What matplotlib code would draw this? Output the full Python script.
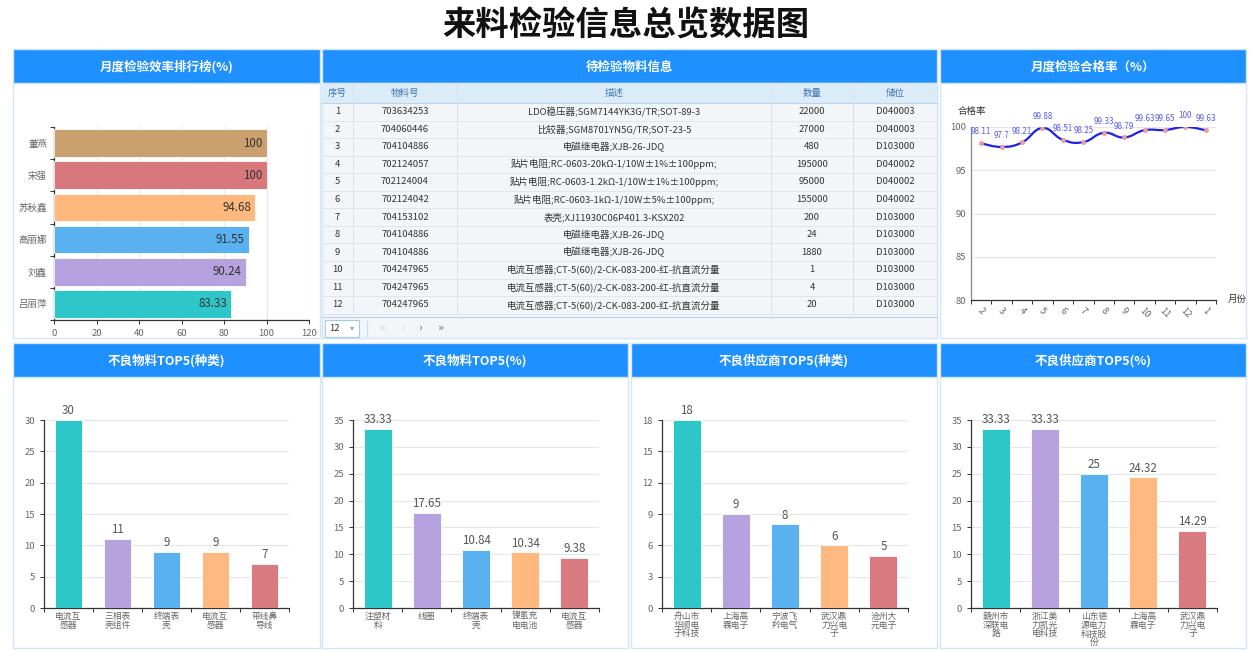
import matplotlib
matplotlib.use('Agg')
import matplotlib.pyplot as plt
from matplotlib.patches import Rectangle, PathPatch
from matplotlib.path import Path
import numpy as np

plt.rcParams['font.family'] = ['Noto Sans CJK SC', 'DejaVu Sans']

# ---------------- data ----------------
title = '来料检验信息总览数据图'
panel_titles_top = ['月度检验效率排行榜(%)', '待检验物料信息', '月度检验合格率（%）']
panel_titles_bottom = ['不良物料TOP5(种类)', '不良物料TOP5(%)', '不良供应商TOP5(种类)', '不良供应商TOP5(%)']

eff_names = ['董燕', '宋强', '苏秋鑫', '高丽娜', '刘鑫', '吕丽萍']
eff_values = [100, 100, 94.68, 91.55, 90.24, 83.33]
eff_colors = ['#C9A06E', '#D8787D', '#FFB97F', '#5AB1EF', '#B6A2DE', '#2EC7C9']
eff_ticks = [0, 20, 40, 60, 80, 100, 120]

table_cols = ['序号', '物料号', '描述', '数量', '储位']
mat_no = ['703634253', '704060446', '704104886', '702124057', '702124004', '702124042',
          '704153102', '704104886', '704104886', '704247965', '704247965', '704247965']
mat_desc = ['LDO稳压器;SGM7144YK3G/TR;SOT-89-3',
            '比较器;SGM8701YN5G/TR;SOT-23-5',
            '电磁继电器;XJB-26-JDQ',
            '贴片电阻;RC-0603-20kΩ-1/10W±1%±100ppm;',
            '贴片电阻;RC-0603-1.2kΩ-1/10W±1%±100ppm;',
            '贴片电阻;RC-0603-1kΩ-1/10W±5%±100ppm;',
            '表壳;XJ11930C06P401.3-KSX202',
            '电磁继电器;XJB-26-JDQ',
            '电磁继电器;XJB-26-JDQ',
            '电流互感器;CT-5(60)/2-CK-083-200-红-抗直流分量',
            '电流互感器;CT-5(60)/2-CK-083-200-红-抗直流分量',
            '电流互感器;CT-5(60)/2-CK-083-200-红-抗直流分量']
mat_qty = ['22000', '27000', '480', '195000', '95000', '155000', '200', '24', '1880', '1', '4', '20']
mat_loc = ['D040003', 'D040003', 'D103000', 'D040002', 'D040002', 'D040002',
           'D103000', 'D103000', 'D103000', 'D103000', 'D103000', 'D103000']
page_size = '12'

months = ['2', '3', '4', '5', '6', '7', '8', '9', '10', '11', '12', '1']
pass_rate = [98.11, 97.7, 98.21, 99.88, 98.51, 98.25, 99.33, 98.79, 99.63, 99.65, 100, 99.63]
pass_ticks = [80, 85, 90, 95, 100]

bar_colors = ['#2EC7C9', '#B6A2DE', '#5AB1EF', '#FFB980', '#D87A80']
bad_mat_cnt_names = ['电流互感器', '三相表壳组件', '终端表壳', '电流互感器', '带线鼻导线']
bad_mat_cnt = [30, 11, 9, 9, 7]
bad_mat_pct_names = ['注塑材料', '线圈', '终端表壳', '镍氢充电电池', '电流互感器']
bad_mat_pct = [33.33, 17.65, 10.84, 10.34, 9.38]
bad_sup_cnt_names = ['舟山市华顺电子科技', '上海高霖电子', '宁波飞羚电气', '武汉鼎力兴电子', '沧州大元电子']
bad_sup_cnt = [18, 9, 8, 6, 5]
bad_sup_pct_names = ['赣州市深联电路', '浙江美力凯光电科技', '山东德源电力科技股份', '上海高霖电子', '武汉鼎力兴电子']
bad_sup_pct = [33.33, 33.33, 25, 24.32, 14.29]
bottom_ticks = [list(range(0, 31, 5)), list(range(0, 36, 5)), list(range(0, 19, 3)), list(range(0, 36, 5))]

# ---------------- figure ----------------
W, H = 1252, 650
fig = plt.figure(figsize=(W / 100, H / 100), dpi=100)
fig.patch.set_facecolor('white')


def px_axes(x, y, w, h):
    return fig.add_axes([x / W, 1 - (y + h) / H, w / W, h / H])


bg = px_axes(0, 0, W, H)
bg.set_xlim(0, W)
bg.set_ylim(H, 0)
bg.axis('off')

HEADER = '#1E90FF'
BORDER = '#D2E6F6'

bg.text(W / 2, 26, title, ha='center', va='center', fontsize=24, fontweight='bold', color='#111111')

top_panels = [(13, 320), (322, 937), (940, 1246)]
bot_panels = [(13, 320), (322, 628), (631, 937), (940, 1246)]
for (x0, x1), t in zip(top_panels, panel_titles_top):
    bg.add_patch(Rectangle((x0, 83), x1 - x0, 255, facecolor='white', edgecolor=BORDER, lw=1))
    bg.add_patch(Rectangle((x0, 49), x1 - x0, 34, facecolor=HEADER, edgecolor=BORDER, lw=1))
    bg.text((x0 + x1) / 2, 67, t, ha='center', va='center', color='white', fontsize=9, fontweight='bold')
for (x0, x1), t in zip(bot_panels, panel_titles_bottom):
    bg.add_patch(Rectangle((x0, 377), x1 - x0, 271, facecolor='white', edgecolor=BORDER, lw=1))
    bg.add_patch(Rectangle((x0, 343), x1 - x0, 34, facecolor=HEADER, edgecolor=BORDER, lw=1))
    bg.text((x0 + x1) / 2, 361, t, ha='center', va='center', color='white', fontsize=9, fontweight='bold')

# ---------------- table ----------------
col_edges = [322, 353, 457, 771, 853, 937]
head_y0, head_y1 = 84, 103
row_h = 17.55
bg.add_patch(Rectangle((322, 83), 615, 255, facecolor='#F3F6F9', edgecolor=BORDER, lw=1))
bg.add_patch(Rectangle((322, head_y0), 615, head_y1 - head_y0, facecolor='#DCEBF8', edgecolor='none'))
bg.plot([322, 937], [head_y1, head_y1], color='#B9D6EF', lw=0.8)
for i, c in enumerate(table_cols):
    bg.text((col_edges[i] + col_edges[i + 1]) / 2, (head_y0 + head_y1) / 2, c,
            ha='center', va='center', fontsize=6.8, color='#3C78B5')
rows = list(zip([str(i + 1) for i in range(len(mat_no))], mat_no, mat_desc, mat_qty, mat_loc))
for r, row in enumerate(rows):
    y0 = head_y1 + r * row_h
    bg.plot([322, 937], [y0 + row_h, y0 + row_h], color='#E1E6EC', lw=0.7)
    for i, v in enumerate(row):
        bg.text((col_edges[i] + col_edges[i + 1]) / 2, y0 + row_h / 2, v,
                ha='center', va='center', fontsize=6.8, color='#333333')
table_bottom = head_y1 + len(rows) * row_h
for xe in col_edges[1:-1]:
    bg.plot([xe, xe], [head_y0, table_bottom], color='#D9E2EA', lw=0.7)
bg.plot([322, 937], [317, 317], color='#B9D6EF', lw=0.9)
bg.add_patch(Rectangle((325, 320), 34, 17, facecolor='white', edgecolor='#A7C8E6', lw=0.8))
bg.text(329, 328.5, page_size, ha='left', va='center', fontsize=6.8, color='#333333')
bg.text(352, 328, '▾', ha='center', va='center', fontsize=6, color='#8AA9C8', family=['DejaVu Sans'])
bg.plot([367, 367], [321, 336], color='#C9DCEC', lw=0.8)
for xg, g, col in [(382, '«', '#C8D2DC'), (402, '‹', '#C8D2DC'), (421, '›', '#5E7C9C'), (441, '»', '#5E7C9C')]:
    bg.text(xg, 328, g, ha='center', va='center', fontsize=7.5, color=col, family=['DejaVu Sans'])

AX_DARK = '#333333'
TICK_C = '#666666'
GRID_C = '#E6E6E6'


def style_axes(ax):
    ax.set_facecolor('none')
    for s in ['top', 'right']:
        ax.spines[s].set_visible(False)
    ax.spines['left'].set_color(AX_DARK)
    ax.spines['bottom'].set_color(AX_DARK)
    ax.spines['left'].set_linewidth(0.9)
    ax.spines['bottom'].set_linewidth(0.9)
    ax.tick_params(colors=AX_DARK, labelcolor=TICK_C, labelsize=6.8, length=3, width=0.7)


# ---------------- efficiency ranking ----------------
ax1 = px_axes(54, 127, 255, 193)
style_axes(ax1)
ypos = np.arange(len(eff_names))
ax1.barh(ypos, eff_values, height=0.86, color=eff_colors, edgecolor='white', lw=0.6, zorder=3)
ax1.set_xlim(0, 120)
ax1.set_ylim(len(eff_names) - 0.5, -0.5)
ax1.set_xticks(eff_ticks)
ax1.set_yticks(ypos)
ax1.set_yticklabels(eff_names)
ax1.tick_params(axis='y', length=0, pad=5)
ax1.set_yticks(np.arange(len(eff_names) + 1) - 0.5, minor=True)
ax1.tick_params(axis='y', which='minor', length=3, width=0.7, color=AX_DARK)
ax1.xaxis.grid(True, color=GRID_C, lw=0.8, zorder=0)
ax1.set_axisbelow(True)
for y, v in zip(ypos, eff_values):
    ax1.text(v - 2, y, f'{v:g}', ha='right', va='center', fontsize=8.3, color='#333333', zorder=4)

# ---------------- pass rate ----------------
ax3 = px_axes(971, 127, 245, 173)
style_axes(ax3)
ax3.spines['left'].set_color('#888888')
xs = np.arange(len(months))
ys = np.array(pass_rate, dtype=float)
ax3.set_xlim(-0.5, len(months) - 0.5)
ax3.set_ylim(80, 100)
ax3.set_yticks(pass_ticks)
ax3.yaxis.grid(True, color=GRID_C, lw=0.8)
ax3.set_axisbelow(True)
ax3.set_xticks(xs)
ax3.set_xticklabels(months, rotation=-45, ha='center', va='top')
ax3.tick_params(axis='x', length=0, pad=4)
ax3.set_xticks(np.arange(len(months) + 1) - 0.5, minor=True)
ax3.tick_params(axis='x', which='minor', length=3, width=0.7, color=AX_DARK)
ax3.tick_params(axis='y', length=0)
# smooth curve (echarts-like bezier smoothing)
smooth = 0.45
verts = [(xs[0], ys[0])]
codes = [Path.MOVETO]
n = len(xs)
cps = []
for i in range(n):
    prv = (xs[i - 1], ys[i - 1]) if i > 0 else (xs[i], ys[i])
    nxt = (xs[i + 1], ys[i + 1]) if i < n - 1 else (xs[i], ys[i])
    vx, vy = (nxt[0] - prv[0]) * smooth, (nxt[1] - prv[1]) * smooth
    cps.append(((xs[i] - vx * 0.5, ys[i] - vy * 0.5), (xs[i] + vx * 0.5, ys[i] + vy * 0.5)))
for i in range(n - 1):
    verts += [cps[i][1], cps[i + 1][0], (xs[i + 1], ys[i + 1])]
    codes += [Path.CURVE4] * 3
ax3.add_patch(PathPatch(Path(verts, codes), facecolor='none', edgecolor='#1F1FF0', lw=1.6, zorder=3))
ax3.scatter(xs, ys, s=9, color='#F0A09A', edgecolor='#E08888', lw=0.4, zorder=4)
for x, y in zip(xs, ys):
    ax3.annotate(f'{y:g}', (x, y), xytext=(0, 5), textcoords='offset points', ha='center',
                 va='bottom', fontsize=5.8, color='#5A5AF0', zorder=5, annotation_clip=False)
bg.text(958, 111, '合格率', ha='left', va='center', fontsize=6.8, color='#333333')
bg.text(1228, 299, '月份', ha='left', va='center', fontsize=6.8, color='#333333')


# ---------------- bottom bar charts ----------------
def wrap3(s):
    return '\n'.join(s[i:i + 3] for i in range(0, len(s), 3))


bottom_sets = [(bad_mat_cnt_names, bad_mat_cnt), (bad_mat_pct_names, bad_mat_pct),
               (bad_sup_cnt_names, bad_sup_cnt), (bad_sup_pct_names, bad_sup_pct)]
bottom_rects = [(44, 245), (353, 246), (662, 246), (971, 246)]
for (names, vals), (ax_x, ax_w), ticks in zip(bottom_sets, bottom_rects, bottom_ticks):
    ax = px_axes(ax_x, 420, ax_w, 188)
    style_axes(ax)
    xp = np.arange(len(names))
    ax.bar(xp, vals, width=0.57, color=bar_colors, edgecolor='white', lw=0.6, zorder=3)
    ax.set_xlim(-0.5, len(names) - 0.5)
    ax.set_ylim(ticks[0], ticks[-1])
    ax.set_yticks(ticks)
    ax.yaxis.grid(True, color=GRID_C, lw=0.8)
    ax.set_axisbelow(True)
    ax.set_xticks(xp)
    ax.set_xticklabels([wrap3(s) for s in names], fontsize=6.3, linespacing=0.95)
    ax.tick_params(axis='x', length=0, pad=3)
    ax.set_xticks(np.arange(len(names) + 1) - 0.5, minor=True)
    ax.tick_params(axis='x', which='minor', length=3, width=0.7, color=AX_DARK)
    for x, v in zip(xp, vals):
        ax.annotate(f'{v:g}', (x, v), xytext=(0, 2), textcoords='offset points', ha='center',
                    va='bottom', fontsize=8.3, color='#555555', zorder=5, annotation_clip=False)

fig.savefig('out.png', dpi=100, facecolor='white')
